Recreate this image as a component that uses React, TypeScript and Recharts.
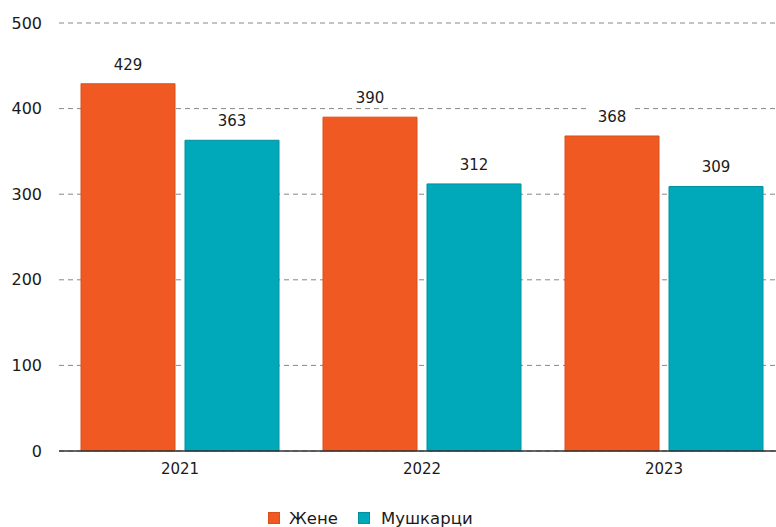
import React from "react";
import { BarChart, Bar, XAxis, YAxis, CartesianGrid, Legend, LabelList } from "recharts";

const years = ["2021", "2022", "2023"];
const women = [429, 390, 368];
const men = [363, 312, 309];
const yTicks = [0, 100, 200, 300, 400, 500];
const seriesNames = { women: "Жене", men: "Мушкарци" };

const data = years.map((y, i) => ({ year: y, women: women[i], men: men[i] }));

const ORANGE = "#F05A22";
const ORANGE_D = "#D84E1C";
const TEAL = "#00A9BA";
const TEAL_D = "#00909F";
const FONT = "'DejaVu Sans', sans-serif";
const TXT = "#1a1a1a";

const ValueLabel = (props: any) => {
  const { x, y, width, value } = props;
  const cx = x + width / 2;
  const cy = y - 19;
  return (
    <g>
      <rect x={cx - 22} y={cy - 9} width={44} height={18} fill="#fff" />
      <text x={cx} y={cy} textAnchor="middle" dominantBaseline="central" fontSize={15} fill={TXT} fontFamily={FONT}>
        {value}
      </text>
    </g>
  );
};

const LegendContent = () => (
  <div style={{ display: "flex", alignItems: "center", fontFamily: FONT, fontSize: 16.5, color: TXT, height: 18, whiteSpace: "nowrap" }}>
    <span style={{ width: 12, height: 12, background: ORANGE, border: `1px solid ${ORANGE_D}`, boxSizing: "border-box", display: "inline-block", marginRight: 9, flex: "none" }} />
    <span style={{ width: 69, display: "inline-block" }}>{seriesNames.women}</span>
    <span style={{ width: 12, height: 12, background: TEAL, border: `1px solid ${TEAL_D}`, boxSizing: "border-box", display: "inline-block", marginRight: 11, flex: "none" }} />
    <span>{seriesNames.men}</span>
  </div>
);

export default function App() {
  return (
    <div style={{ position: "absolute", left: 0, top: 0, width: 776, height: 527, overflow: "hidden", background: "#fff" }}>
      <BarChart
        width={790}
        height={527}
        data={data}
        margin={{ top: 23, right: 5, bottom: 0, left: 0 }}
        barCategoryGap={22}
        barGap={10}
      >
        <CartesianGrid vertical={false} stroke="#888" strokeDasharray="5 4" />
        <XAxis
          dataKey="year"
          height={58}
          tickLine={false}
          axisLine={{ stroke: "#333", strokeWidth: 1.5 }}
          tickMargin={6}
          tick={{ fontSize: 15, fill: TXT, fontFamily: FONT }}
        />
        <YAxis
          width={59}
          domain={[0, 500]}
          ticks={yTicks}
          axisLine={false}
          tickLine={false}
          tickMargin={11}
          tick={{ fontSize: 16, fill: TXT, fontFamily: FONT }}
        />
        <Legend
          verticalAlign="bottom"
          content={<LegendContent />}
          wrapperStyle={{ left: 268, width: 280, height: 18 }}
        />
        <Bar dataKey="women" name={seriesNames.women} fill={ORANGE} stroke={ORANGE_D} strokeWidth={1} isAnimationActive={false}>
          <LabelList dataKey="women" content={<ValueLabel />} />
        </Bar>
        <Bar dataKey="men" name={seriesNames.men} fill={TEAL} stroke={TEAL_D} strokeWidth={1} isAnimationActive={false}>
          <LabelList dataKey="men" content={<ValueLabel />} />
        </Bar>
      </BarChart>
    </div>
  );
}
